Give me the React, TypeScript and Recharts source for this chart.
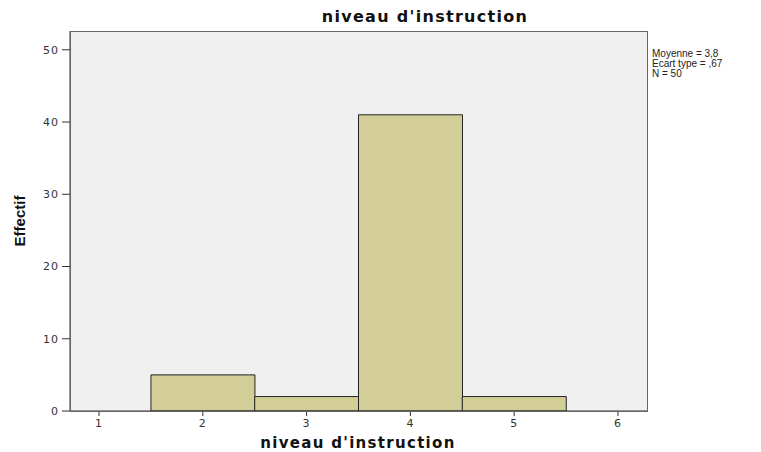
import React from 'react';
import { ComposedChart, Bar, XAxis, YAxis, CartesianGrid } from 'recharts';

// niveau d'instruction — bin centres and counts (Effectif)
const levels = [2, 3, 4, 5];
const counts = [5, 2, 41, 2];
const xTicks = [1, 2, 3, 4, 5, 6];
const yTicks = [0, 10, 20, 30, 40, 50];
const statLines = ['Moyenne = 3,8', 'Ecart type = ,67', 'N = 50'];

const data = levels.map((lvl, i) => ({ lvl, count: counts[i] }));

const tickStyle = { fontFamily: 'DejaVu Sans, Arial, sans-serif', fontSize: 11, fill: '#333', letterSpacing: 1 };
const boldTitle = { fontFamily: 'DejaVu Sans, Verdana, sans-serif', fontWeight: 'bold' as const, color: '#111', textAlign: 'center' as const };

export default function App() {
  return (
    <div style={{ position: 'fixed', left: 0, top: 0, width: 761, height: 452, background: '#fff', overflow: 'hidden' }}>
      <ComposedChart
        width={761}
        height={452}
        data={data}
        margin={{ top: 31, right: 114, bottom: 0, left: 0 }}
        barCategoryGap={0}
        barGap={0}
      >
        <CartesianGrid fill="#f0f0f0" horizontal={false} vertical={false} />
        <XAxis
          dataKey="lvl"
          type="number"
          domain={[0.72, 6.28]}
          ticks={xTicks}
          allowDataOverflow
          height={41}
          tickSize={5}
          tickMargin={3}
          stroke="#333"
          tick={tickStyle}
        />
        <YAxis
          type="number"
          domain={[0, 52.6]}
          ticks={yTicks}
          allowDataOverflow
          width={70}
          tickSize={8}
          tickMargin={3}
          stroke="#333"
          tick={tickStyle}
        />
        <Bar dataKey="count" fill="#d3ce98" stroke="#222" strokeWidth={1} isAnimationActive={false} />
      </ComposedChart>

      {/* plot frame */}
      <div style={{ position: 'absolute', left: 70, top: 31, width: 576, height: 379, border: '1px solid #666', pointerEvents: 'none' }} />

      <div style={{ ...boldTitle, position: 'absolute', left: 300, top: 8, width: 250, fontSize: 16, lineHeight: '18px', letterSpacing: 1.3 }}>
        niveau d'instruction
      </div>
      <div style={{ ...boldTitle, position: 'absolute', left: 238, top: 436, width: 240, fontSize: 15, lineHeight: '15px', letterSpacing: 1.3 }}>
        niveau d'instruction
      </div>
      <div style={{ position: 'absolute', left: 19, top: 221, width: 0, height: 0 }}>
        <div style={{ position: 'absolute', transform: 'translate(-50%, -50%) rotate(-90deg)', fontFamily: 'Liberation Sans Narrow, Arial Narrow, Liberation Sans, sans-serif', fontWeight: 'bold', fontSize: 15, color: '#111', whiteSpace: 'nowrap' }}>
          Effectif
        </div>
      </div>
      <div style={{ position: 'absolute', left: 652, top: 49, fontFamily: 'Liberation Sans, Arial, sans-serif', fontSize: 10, lineHeight: '10px', color: '#222' }}>
        {statLines.map((s) => (
          <div key={s}>{s}</div>
        ))}
      </div>
    </div>
  );
}
